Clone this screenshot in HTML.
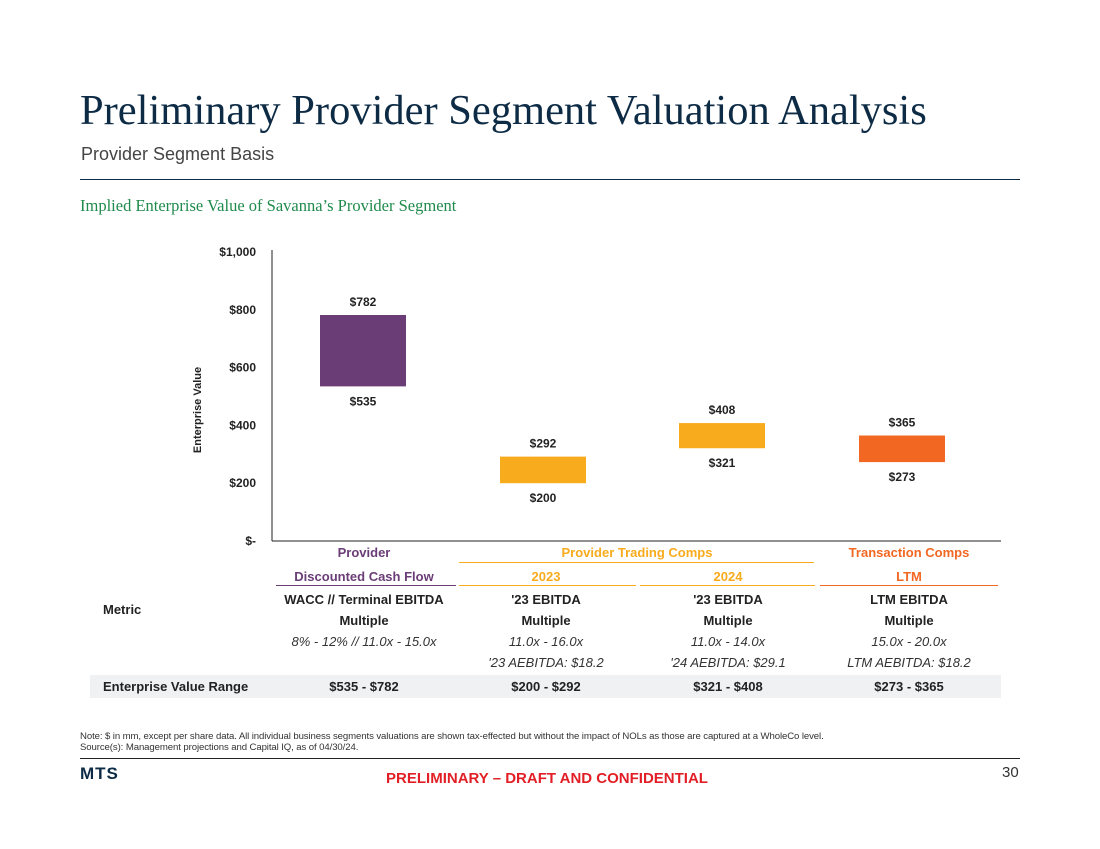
<!DOCTYPE html>
<html><head><meta charset="utf-8">
<style>
body{margin:0;width:1100px;height:849px;background:#fff;position:relative;font-family:"Liberation Sans",sans-serif;overflow:hidden}
.a{position:absolute;white-space:nowrap}
.c{transform:translateX(-50%);text-align:center}
.t{font-size:13px;color:#222;font-weight:bold}
.i{font-size:13px;color:#333;font-style:italic}
</style></head><body>
<div class="a" style="left:80px;top:86px;font-family:'Liberation Serif',serif;font-size:42.5px;color:#0d2b45">Preliminary Provider Segment Valuation Analysis</div>
<div class="a" style="left:81px;top:144px;font-size:18px;color:#444">Provider Segment Basis</div>
<div class="a" style="left:80px;top:179px;width:940px;height:1px;background:#0d2b45"></div>
<div class="a" style="left:80px;top:196px;font-family:'Liberation Serif',serif;font-size:16.5px;color:#1f8a4c">Implied Enterprise Value of Savanna’s Provider Segment</div>

<svg class="a" style="left:0;top:0" width="1100" height="560">
<g id="g"></g>
<text transform="translate(201,410) rotate(-90)" text-anchor="middle" font-size="11" font-weight="bold" fill="#222">Enterprise Value</text>
</svg>
<script>
const categories=["Provider DCF","Trading Comps 2023","Trading Comps 2024","Transaction Comps LTM"];
const lows=[535,200,321,273];
const highs=[782,292,408,365];
const colors=["#6a3d76","#f8ab1c","#f8ab1c","#f26722"];
const ticks=[0,200,400,600,800,1000];
const tickLabels=["$-","$200","$400","$600","$800","$1,000"];
const NS="http://www.w3.org/2000/svg",g=document.getElementById('g');
const y=v=>541-v*0.289, x0=272, x1=1001, bw=86;
const centers=[363,543,722,902];
function mk(t,a){const e=document.createElementNS(NS,t);for(const k in a)e.setAttribute(k,a[k]);g.appendChild(e);return e;}
let e=mk('line',{x1:x0,y1:y(1000)-2,x2:x0,y2:541,stroke:'#222','stroke-width':1});


e=mk('line',{x1:x0,y1:541,x2:x1,y2:541,stroke:'#222','stroke-width':1});


ticks.forEach((v,i)=>{const t=mk('text',{x:256,y:y(v)+4,'text-anchor':'end','font-size':12,'font-weight':'bold',fill:'#222'});t.textContent=tickLabels[i];

});
categories.forEach((c,i)=>{const cx=centers[i];
const r=mk('rect',{x:cx-bw/2,y:y(highs[i]),width:bw,height:y(lows[i])-y(highs[i]),fill:colors[i]});


let t=mk('text',{x:cx,y:y(highs[i])-9,'text-anchor':'middle','font-size':12,'font-weight':'bold',fill:'#222'});t.textContent='$'+highs[i];


t=mk('text',{x:cx,y:y(lows[i])+19,'text-anchor':'middle','font-size':12,'font-weight':'bold',fill:'#222'});t.textContent='$'+lows[i];

});
</script>

<div>
<div class="a c t" style="left:364px;top:545px;color:#6a3d76">Provider</div>
<div class="a c t" style="left:637px;top:545px;color:#f8ab1c">Provider Trading Comps</div>
<div class="a" style="left:459px;top:562px;width:355px;height:1px;background:#f8ab1c"></div>
<div class="a c t" style="left:909px;top:545px;color:#f26722">Transaction Comps</div>
<div class="a c t" style="left:364px;top:569px;color:#6a3d76">Discounted Cash Flow</div>
<div class="a c t" style="left:546px;top:569px;color:#f8ab1c">2023</div>
<div class="a c t" style="left:728px;top:569px;color:#f8ab1c">2024</div>
<div class="a c t" style="left:909px;top:569px;color:#f26722">LTM</div>
<div class="a" style="left:276px;top:585px;width:180px;height:1px;background:#6a3d76"></div>
<div class="a" style="left:459px;top:585px;width:177px;height:1px;background:#f8ab1c"></div>
<div class="a" style="left:640px;top:585px;width:175px;height:1px;background:#f8ab1c"></div>
<div class="a" style="left:820px;top:585px;width:178px;height:1px;background:#f26722"></div>
<div class="a t" style="left:103px;top:602px">Metric</div>
<div class="a c t" style="left:364px;top:592px">WACC // Terminal EBITDA</div>
<div class="a c t" style="left:546px;top:592px">'23 EBITDA</div>
<div class="a c t" style="left:728px;top:592px">'23 EBITDA</div>
<div class="a c t" style="left:909px;top:592px">LTM EBITDA</div>
<div class="a c t" style="left:364px;top:613px">Multiple</div>
<div class="a c t" style="left:546px;top:613px">Multiple</div>
<div class="a c t" style="left:728px;top:613px">Multiple</div>
<div class="a c t" style="left:909px;top:613px">Multiple</div>
<div class="a c i" style="left:364px;top:634px">8% - 12% // 11.0x - 15.0x</div>
<div class="a c i" style="left:546px;top:634px">11.0x - 16.0x</div>
<div class="a c i" style="left:728px;top:634px">11.0x - 14.0x</div>
<div class="a c i" style="left:909px;top:634px">15.0x - 20.0x</div>
<div class="a c i" style="left:546px;top:655px">'23 AEBITDA: $18.2</div>
<div class="a c i" style="left:728px;top:655px">'24 AEBITDA: $29.1</div>
<div class="a c i" style="left:909px;top:655px">LTM AEBITDA: $18.2</div>
<div class="a" style="left:90px;top:675px;width:911px;height:23px;background:#f0f1f3"></div>
<div class="a t" style="left:103px;top:679px">Enterprise Value Range</div>
<div class="a c t" style="left:364px;top:679px">$535 - $782</div>
<div class="a c t" style="left:546px;top:679px">$200 - $292</div>
<div class="a c t" style="left:728px;top:679px">$321 - $408</div>
<div class="a c t" style="left:909px;top:679px">$273 - $365</div>
</div>

<div class="a" style="left:80px;top:731px;font-size:9.6px;color:#333;line-height:11px;letter-spacing:-0.1px">Note: $ in mm, except per share data. All individual business segments valuations are shown tax-effected but without the impact of NOLs as those are captured at a WholeCo level.<br>Source(s): Management projections and Capital IQ, as of 04/30/24.</div>
<div class="a" style="left:80px;top:758px;width:940px;height:1px;background:#222"></div>
<div class="a" style="left:80px;top:764px;font-size:17px;font-weight:bold;color:#0d2b45;letter-spacing:1px">MTS</div>
<div class="a c" style="left:547px;top:770px;font-size:15px;font-weight:bold;color:#e21f26">PRELIMINARY – DRAFT AND CONFIDENTIAL</div>
<div class="a" style="left:1002px;top:764px;font-size:15px;color:#333">30</div>
</body></html>
